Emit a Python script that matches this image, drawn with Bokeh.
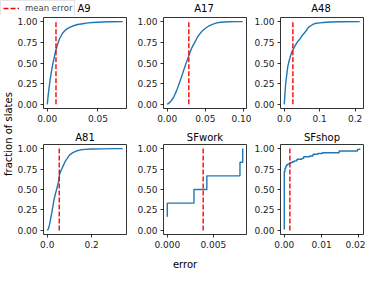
import math
from bokeh.plotting import figure
from bokeh.layouts import row, column
from bokeh.models import Range1d, FixedTicker, NumeralTickFormatter, Label, Legend, LegendItem
from bokeh.embed import file_html
from bokeh.resources import INLINE

FONT = "DejaVu Sans"
BLUE = "#1f77b4"

# ---- data ----
names = ["A9", "A17", "A48", "A81", "SFwork", "SFshop"]

a9_x = [0, 0.001, 0.002, 0.003, 0.004, 0.005, 0.006, 0.008, 0.010, 0.012, 0.015, 0.018,
        0.022, 0.026, 0.030, 0.035, 0.040, 0.045, 0.050, 0.055, 0.060, 0.065, 0.0745]
a9_y = [0, 0.12, 0.22, 0.31, 0.39, 0.46, 0.52, 0.63, 0.72, 0.79, 0.86, 0.90,
        0.93, 0.95, 0.965, 0.975, 0.985, 0.99, 0.993, 0.996, 0.998, 0.999, 1.0]

a17_x = [0, 0.004, 0.008, 0.012, 0.016, 0.020, 0.024, 0.028, 0.032, 0.036, 0.040, 0.045,
         0.050, 0.055, 0.060, 0.065, 0.070, 0.080, 0.090, 0.099]
a17_y = [0, 0.03, 0.08, 0.16, 0.26, 0.37, 0.48, 0.58, 0.68, 0.75, 0.82, 0.88,
         0.92, 0.95, 0.97, 0.985, 0.993, 0.998, 1.0, 1.0]

a48_x = [0, 0.002, 0.004, 0.007, 0.010, 0.014, 0.018, 0.022, 0.027, 0.032, 0.038, 0.044,
         0.050, 0.056, 0.062, 0.068, 0.075, 0.082, 0.090, 0.100, 0.110, 0.130, 0.160, 0.213]
a48_y = [0, 0.14, 0.25, 0.36, 0.46, 0.53, 0.59, 0.64, 0.68, 0.72, 0.76, 0.79,
         0.83, 0.86, 0.89, 0.93, 0.95, 0.97, 0.98, 0.985, 0.99, 0.995, 0.998, 1.0]

a81_x = [0, 0.005, 0.010, 0.015, 0.020, 0.025, 0.030, 0.035, 0.040, 0.045, 0.050, 0.055,
         0.060, 0.070, 0.080, 0.090, 0.100, 0.115, 0.130, 0.150, 0.170, 0.200, 0.250, 0.300, 0.340]
a81_y = [0, 0.02, 0.07, 0.14, 0.21, 0.29, 0.37, 0.43, 0.48, 0.53, 0.59, 0.68,
         0.72, 0.78, 0.84, 0.88, 0.92, 0.95, 0.97, 0.985, 0.99, 0.995, 0.997, 0.999, 1.0]

sfwork_x = [0.0, 0.0, 0.0029, 0.0043, 0.0079, 0.0082]
sfwork_y = [0.167, 0.333, 0.5, 0.667, 0.833, 1.0]

sfshop_x = [0.0, 0.0, 0.0002, 0.0004, 0.0006, 0.0009, 0.0013, 0.0017, 0.0022, 0.0027, 0.0034,
            0.0040, 0.0047, 0.0052, 0.0060, 0.0068, 0.0077, 0.0090, 0.0102, 0.0147, 0.0196, 0.0202]
sfshop_y = [0.01, 0.72, 0.76, 0.78, 0.80, 0.81, 0.82, 0.83, 0.84, 0.85, 0.87,
            0.87, 0.88, 0.90, 0.90, 0.91, 0.93, 0.94, 0.95, 0.97, 0.99, 1.0]

mean_errors = [0.0086, 0.0283, 0.0243, 0.054, 0.0039, 0.0015]

x_ticks = [[0, 0.05], [0, 0.05, 0.10], [0, 0.1, 0.2], [0, 0.2], [0, 0.005], [0, 0.01, 0.02]]
x_formats = ["0.00", "0.00", "0.0", "0.0", "0.000", "0.00"]
y_ticks = [0, 0.25, 0.5, 0.75, 1.0]
y_format = "0.00"

series = [(a9_x, a9_y, "line"), (a17_x, a17_y, "line"), (a48_x, a48_y, "line"),
          (a81_x, a81_y, "line"), (sfwork_x, sfwork_y, "step"), (sfshop_x, sfshop_y, "step")]

TICK_FS = "9px"
TITLE_FS = "10px"


def make_panel(i, width, height, left, right, top, bottom, with_title):
    xs, ys, kind = series[i]
    lo, hi = min(xs), max(xs)
    pad = 0.05 * (hi - lo)
    p = figure(width=width, height=height, output_backend="svg", toolbar_location=None,
               x_range=Range1d(lo - pad, hi + pad), y_range=Range1d(-0.05, 1.05),
               title=names[i] if with_title else None,
               min_border_left=left, min_border_right=right,
               min_border_top=top, min_border_bottom=bottom)
    if with_title:
        p.title.align = "center"
        p.title.text_font = FONT
        p.title.text_font_size = TITLE_FS
        p.title.text_font_style = "normal"
        p.title.text_color = "black"
        p.title.standoff = 3
    p.xgrid.visible = False
    p.ygrid.visible = False
    p.outline_line_color = "black"
    p.outline_line_width = 0.8
    p.background_fill_color = "white"
    p.border_fill_color = "white"
    p.xaxis.ticker = FixedTicker(ticks=x_ticks[i])
    p.xaxis.formatter = NumeralTickFormatter(format=x_formats[i])
    p.yaxis.ticker = FixedTicker(ticks=y_ticks)
    p.yaxis.formatter = NumeralTickFormatter(format=y_format)
    for ax in (p.xaxis[0], p.yaxis[0]):
        ax.axis_line_color = None
        ax.major_tick_line_color = "black"
        ax.major_tick_line_width = 0.8
        ax.major_tick_out = 3
        ax.major_tick_in = 0
        ax.minor_tick_line_color = None
        ax.major_label_text_font = FONT
        ax.major_label_text_font_size = TICK_FS
        ax.major_label_text_color = "#222222"
        ax.major_label_standoff = 3
    if kind == "line":
        p.line(xs, ys, line_color=BLUE, line_width=1.4)
    else:
        p.step(xs, ys, mode="after", line_color=BLUE, line_width=1.4)
    m = mean_errors[i]
    p.line([m, m], [0, 1], line_color="red", line_dash="5 2", line_width=1.4)
    return p


FRAME_W, FRAME_H = 85, 91
LB = 27
right_borders = [8, 5, 2]

panels = []
for i in range(6):
    c = i % 3
    r = i // 3
    rb = right_borders[c]
    w = LB + FRAME_W + rb
    if r == 0:
        top, bottom = 2, 20
    else:
        top, bottom = 15, 20
    h = top + FRAME_H + bottom
    panels.append(make_panel(i, w, h, LB, rb, top, bottom, r == 1))

TOTAL_W = 365
YLAB_W = 14
STRIP_H = 15
XLAB_H = 16
grid_h = (2 + FRAME_H + 20) + (15 + FRAME_H + 20)


def blank(w, h):
    f = figure(width=w, height=h, output_backend="svg", toolbar_location=None,
               x_range=Range1d(0, w), y_range=Range1d(0, h), title=None,
               x_axis_location=None, y_axis_location=None,
               min_border=0, min_border_left=0, min_border_right=0,
               min_border_top=0, min_border_bottom=0)
    f.xgrid.visible = False
    f.ygrid.visible = False
    f.outline_line_color = None
    f.background_fill_color = "white"
    f.border_fill_color = "white"
    return f


# top strip: legend + top-row titles
strip = blank(TOTAL_W, STRIP_H)
nan = float("nan")
dummy = strip.line(x=[nan, nan], y=[nan, nan], line_color="red", line_dash="5 2", line_width=1.4)
legend = Legend(items=[LegendItem(label="mean error", renderers=[dummy])],
                location="top_left", margin=0, padding=2, spacing=0,
                glyph_width=16, glyph_height=8, label_height=8, label_standoff=6,
                label_text_font=FONT, label_text_font_size="8.5px",
                border_line_color="#cccccc", border_line_width=1,
                background_fill_color="white", background_fill_alpha=0.8)
strip.add_layout(legend)
col_left = [YLAB_W + LB, YLAB_W + LB + FRAME_W + right_borders[0] + LB,
            YLAB_W + 2 * (LB + FRAME_W) + right_borders[0] + right_borders[1] + LB]
for c in range(3):
    strip.add_layout(Label(x=col_left[c] + FRAME_W / 2, y=STRIP_H - 8, text=names[c],
                           text_align="center", text_baseline="middle",
                           text_font=FONT, text_font_size=TITLE_FS, text_color="black"))

ylab = blank(YLAB_W, grid_h)
ylab.add_layout(Label(x=8, y=grid_h / 2 + 1, text="fraction of slates", angle=math.pi / 2,
                      text_align="center", text_baseline="middle",
                      text_font=FONT, text_font_size="10px", text_color="black"))

xlab = blank(TOTAL_W, XLAB_H)
xlab.add_layout(Label(x=184.5, y=XLAB_H - 10, text="error",
                      text_align="center", text_baseline="middle",
                      text_font=FONT, text_font_size="10px", text_color="black"))

layout = column(strip,
                row(ylab, column(row(*panels[:3]), row(*panels[3:]))),
                xlab)

with open("out.html", "w") as f:
    f.write(file_html(layout, INLINE))
